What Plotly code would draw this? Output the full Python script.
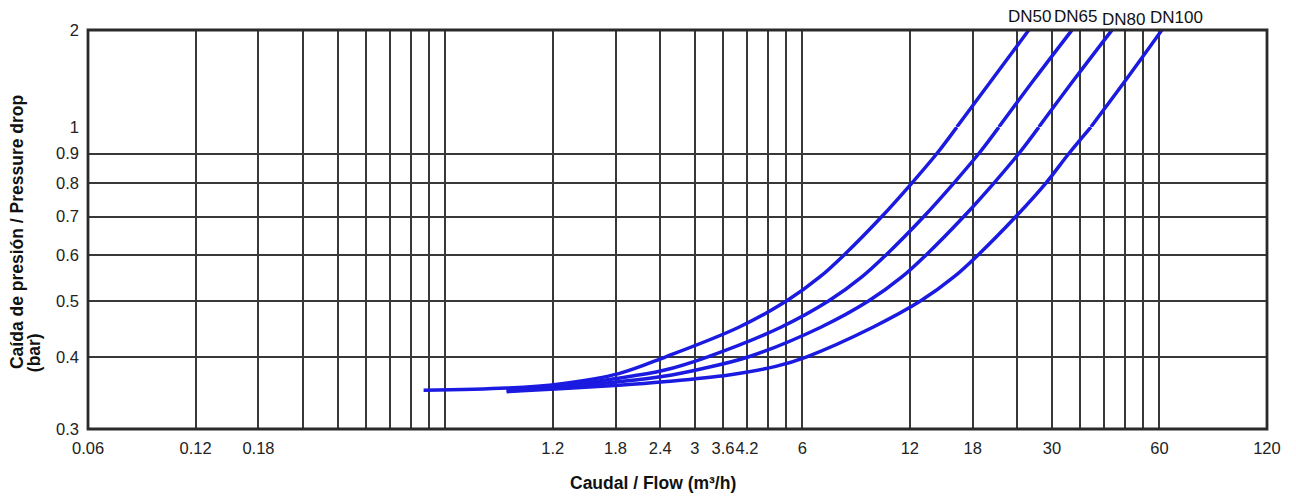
import plotly.graph_objects as go
from plotly.subplots import make_subplots
import math

# ---- data ----
series_names = ["DN50", "DN65", "DN80", "DN100"]

dn50_flow = [0.522, 0.892, 1.256, 1.837, 2.488, 3.984, 5.429, 6.716, 7.842, 10.02, 12.16, 14.29, 16.25, 20.50, 25.85]
dn50_dp   = [0.350, 0.353, 0.359, 0.374, 0.400, 0.450, 0.500, 0.550, 0.600, 0.700, 0.800, 0.900, 1.000, 1.414, 2.000]

dn65_flow = [0.892, 1.256, 1.768, 2.456, 3.262, 5.224, 7.120, 8.808, 10.28, 13.14, 15.94, 18.73, 21.31, 26.88, 34.13]
dn65_dp   = [0.350, 0.356, 0.366, 0.379, 0.400, 0.450, 0.500, 0.550, 0.600, 0.700, 0.800, 0.900, 1.000, 1.414, 2.000]

dn80_flow = [0.892, 1.256, 1.837, 2.456, 3.118, 4.250, 6.760, 9.216, 11.40, 13.31, 17.00, 20.64, 24.24, 27.58, 34.79, 44.18]
dn80_dp   = [0.349, 0.354, 0.362, 0.370, 0.381, 0.400, 0.450, 0.500, 0.550, 0.600, 0.700, 0.800, 0.900, 1.000, 1.414, 2.000]

dn100_flow = [0.892, 1.256, 1.837, 2.456, 3.735, 5.057, 6.176, 9.455, 12.88, 15.94, 18.61, 23.78, 28.86, 33.47, 38.57, 48.65, 60.97]
dn100_dp   = [0.348, 0.352, 0.357, 0.362, 0.372, 0.385, 0.400, 0.450, 0.500, 0.550, 0.600, 0.700, 0.800, 0.900, 1.000, 1.414, 2.000]

# x grid lines and their labels
x_grid_vals = [0.06, 0.12, 0.18, 0.24, 0.30, 0.36, 0.42, 0.48, 0.54, 0.60,
               1.2, 1.8, 2.4, 3.0, 3.6, 4.2, 4.8, 5.4, 6.0,
               12, 18, 24, 30, 36, 42, 48, 54, 60, 120]
x_grid_text = ["0.06", "0.12", "0.18", "", "", "", "", "", "", "",
               "1.2", "1.8", "2.4", "3", "3.6", "4.2", "", "", "6",
               "12", "18", "", "30", "", "", "", "", "60", "120"]

# y grid lines and labels (lower part 0.3-1, upper part 1-2)
y_low_vals = [0.3, 0.4, 0.5, 0.6, 0.7, 0.8, 0.9, 1.0]
y_low_text = ["0.3", "0.4", "0.5", "0.6", "0.7", "0.8", "0.9", "1"]
y_up_vals = [1.0, 2.0]
y_up_text = ["", "2"]

series = [(dn50_flow, dn50_dp), (dn65_flow, dn65_dp), (dn80_flow, dn80_dp), (dn100_flow, dn100_dp)]

# ---- styles ----
LINE_COLOR = "#1a1ae0"
GRID = "#383838"
FONT = "Liberation Sans, Arial, sans-serif"
SPLIT = 1.0  # the y axis changes scale at 1 bar

fig = make_subplots(rows=2, cols=1, shared_xaxes=True, vertical_spacing=0,
                    row_heights=[97 / 399, 302 / 399])

for (q, p), name in zip(series, series_names):
    upper = [(a, b) for a, b in zip(q, p) if b >= SPLIT]
    lower = [(a, b) for a, b in zip(q, p) if b <= SPLIT]
    for row, pts in ((1, upper), (2, lower)):
        fig.add_trace(go.Scatter(x=[a for a, _ in pts], y=[b for _, b in pts], mode="lines",
                                 name=name, showlegend=False,
                                 line=dict(color=LINE_COLOR, width=3.5, shape="spline", smoothing=1.0),
                                 hoverinfo="skip"), row=row, col=1)

eps = 2e-4
xr = [math.log10(0.06) - eps, math.log10(120) + eps]
common_x = dict(type="log", range=xr, tickmode="array", tickvals=x_grid_vals,
                showgrid=True, gridcolor=GRID, gridwidth=1.6, ticks="",
                showline=False, zeroline=False, automargin=False, tickangle=0)
fig.update_xaxes(**common_x, row=1, col=1, showticklabels=False)
fig.update_xaxes(**common_x, row=2, col=1, ticktext=x_grid_text,
                 tickfont=dict(family=FONT, size=16.5, color="#222"),
                 ticklabelstandoff=7)

common_y = dict(type="log", tickmode="array", showgrid=True, gridcolor=GRID, gridwidth=1.6,
                ticks="", showline=False, zeroline=False, automargin=False,
                tickfont=dict(family=FONT, size=16.5, color="#222"), ticklabelstandoff=8)
fig.update_yaxes(**common_y, row=1, col=1, range=[0 - eps, math.log10(2) + eps],
                 tickvals=y_up_vals, ticktext=y_up_text)
fig.update_yaxes(**common_y, row=2, col=1, range=[math.log10(0.3) - eps, 0 + eps],
                 tickvals=y_low_vals, ticktext=y_low_text)

# plot frame
fig.add_shape(type="rect", xref="paper", yref="paper", x0=0, x1=1, y0=0, y1=1,
              line=dict(color="#2a2a2a", width=2.8), layer="above")

# axis titles
fig.add_annotation(text="<b>Caída de presión / Pressure drop</b>",
                   xref="paper", yref="paper", x=-0.0602, y=0.4937, textangle=-90,
                   showarrow=False, xanchor="center", yanchor="middle",
                   font=dict(family=FONT, size=17.5, color="#111"))
fig.add_annotation(text="<b>(bar)</b>",
                   xref="paper", yref="paper", x=-0.0458, y=0.19, textangle=-90,
                   showarrow=False, xanchor="center", yanchor="middle",
                   font=dict(family=FONT, size=17.5, color="#111"))
fig.add_annotation(text="<b>Caudal / Flow (m³/h)</b>", xref="paper", yref="paper",
                   x=0.4792, y=-0.1353, showarrow=False, xanchor="center", yanchor="middle",
                   font=dict(family=FONT, size=17.5, color="#111"))

# series labels at top
label_x = [0.7986, 0.8376, 0.8787, 0.9232]
label_y = [1.035, 1.035, 1.027, 1.031]
for name, lx, ly in zip(series_names, label_x, label_y):
    fig.add_annotation(text=name, xref="paper", yref="paper", x=lx, y=ly, showarrow=False,
                       xanchor="center", yanchor="middle",
                       font=dict(family=FONT, size=17, color="#111"))

# the page adds an 8 px body margin, so the figure is sized to fit the window
fig.update_layout(width=1288, height=489, plot_bgcolor="white", paper_bgcolor="white",
                  margin=dict(l=80, r=29, t=22, b=68), showlegend=False)

fig.write_html("out.html")
